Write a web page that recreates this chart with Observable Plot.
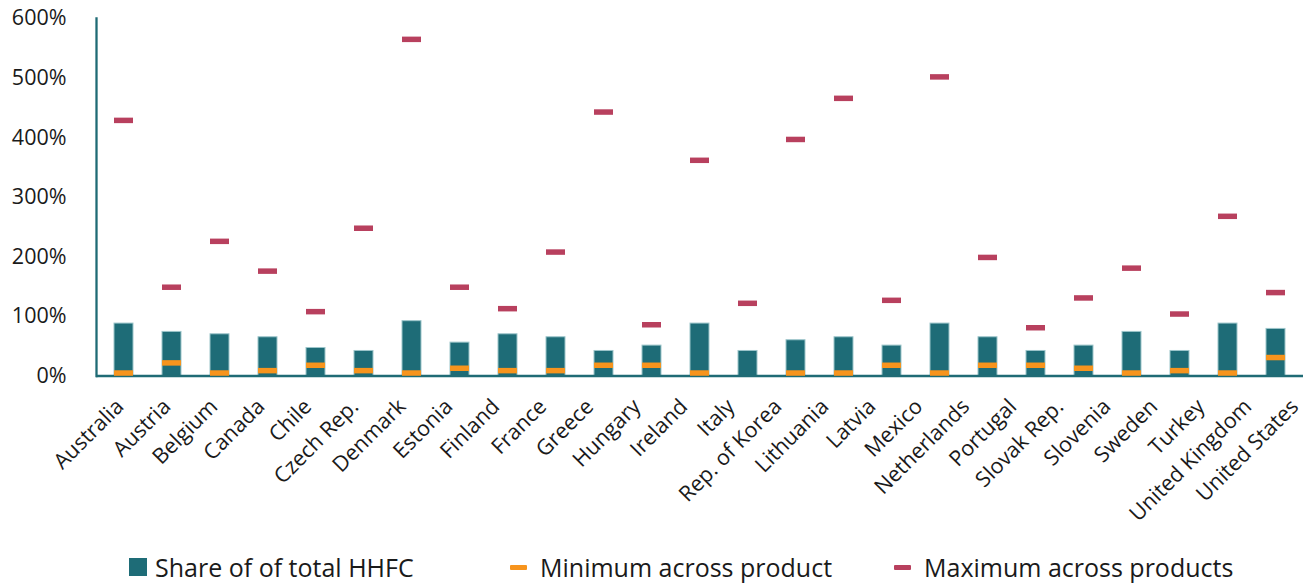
<!DOCTYPE html>
<html>
<head>
<meta charset="utf-8">
<script src="https://cdn.jsdelivr.net/npm/d3@7"></script>
<script src="https://cdn.jsdelivr.net/npm/@observablehq/plot@0.6"></script>
<style>
  html, body { margin: 0; padding: 0; background: #fff; }
  #chart { position: relative; width: 1306px; height: 584px; font-family: "Open Sans", Lato, sans-serif; color: #1a1a1a; }
  #chart svg { position: absolute; left: 0; top: 0; }
  .item { position: absolute; top: 553px; height: 28px; display: flex; align-items: center; font-size: 25px; white-space: nowrap; }
  .swatch { display: inline-block; }
</style>
</head>
<body>
<div id="chart"></div>
<script>
// Country labels along the category axis
const countries = [
  "Australia", "Austria", "Belgium", "Canada", "Chile", "Czech Rep.", "Denmark",
  "Estonia", "Finland", "France", "Greece", "Hungary", "Ireland", "Italy",
  "Rep. of Korea", "Lithuania", "Latvia", "Mexico", "Netherlands", "Portugal",
  "Slovak Rep.", "Slovenia", "Sweden", "Turkey", "United Kingdom", "United States"
];

// Series readings, in per cent (25 readings per series)
const shares = [88, 74, 70, 65, 47, 42, 92, 56, 70, 65, 42, 51, 88, 42, 60, 65, 51, 88, 65, 42, 51, 74, 42, 88, 79];
const minima = [5, 22, 5, 9, 18, 9, 5, 13, 9, 9, 18, 18, 5, null, 5, 5, 18, 5, 18, 18, 13, 5, 9, 5, 31];
const maxima = [429, 149, 226, 176, 108, 248, 565, 149, 113, 208, 443, 86, 362, 122, 397, 466, 127, 502, 199, 81, 131, 181, 104, 268, 140];

const yTicks = [0, 100, 200, 300, 400, 500, 600];
const seriesNames = ["Share of of total HHFC", "Minimum across product", "Maximum across products"];
const seriesColors = ["#1e6c77", "#f7941d", "#b8405e"];
const axisColor = "#1f6b75";
const fontFamily = "'Open Sans', Lato, sans-serif";

const W = 1306, H = 535, baseY = 375.5;

const readings = shares.map((share, i) => ({slot: i, share, min: minima[i], max: maxima[i]}));

const chart = Plot.plot({
  width: W,
  height: H,
  marginLeft: 96,
  marginRight: 3,
  marginTop: 18,
  marginBottom: H - baseY,
  style: {fontFamily, color: "#1a1a1a", background: "transparent", overflow: "visible"},
  x: {type: "band", domain: readings.map(d => d.slot), paddingInner: 0.61, paddingOuter: 0.305, axis: null},
  y: {domain: [0, 600]},
  marks: [
    Plot.axisY({ticks: yTicks, tickSize: 0, tickPadding: 30, tickFormat: d => d + "%", fontSize: 21.5}),
    Plot.barY(readings, {x: "slot", y: "share", fill: seriesColors[0], stroke: "#9cc5ca", strokeWidth: 1}),
    Plot.ruleY([0], {stroke: axisColor, strokeWidth: 2.6}),
    Plot.frame({anchor: "left", stroke: axisColor, strokeWidth: 2.3}),
    Plot.tickY(readings.filter(d => d.min != null), {x: "slot", y: "min", stroke: seriesColors[1], strokeWidth: 5.5}),
    Plot.tickY(readings, {x: "slot", y: "max", stroke: seriesColors[2], strokeWidth: 5.5})
  ]
});

// Category labels, rotated along the bottom
const step = 47.05, firstTick = 119;
const labelAxis = Plot.plot({
  width: W,
  height: H,
  marginLeft: 96,
  marginRight: 3,
  marginTop: 18,
  marginBottom: H - baseY,
  style: {fontFamily, color: "#1a1a1a", background: "transparent", overflow: "visible"},
  x: {type: "band", domain: countries, padding: 0, range: [firstTick - step / 2, firstTick - step / 2 + step * countries.length]},
  marks: [
    Plot.axisX({tickSize: 0, tickPadding: 27, tickRotate: -45, fontSize: 21.5})
  ]
});

const root = document.getElementById("chart");
root.appendChild(chart);
root.appendChild(labelAxis);

// Legend
const legendLefts = [129, 510, 894];
const swatches = [
  {w: 18, h: 18, gap: 8},
  {w: 17, h: 5, gap: 13},
  {w: 17, h: 5, gap: 13}
];
seriesNames.forEach((name, i) => {
  const item = document.createElement("div");
  item.className = "item";
  item.style.left = legendLefts[i] + "px";
  const sw = document.createElement("span");
  sw.className = "swatch";
  sw.style.width = swatches[i].w + "px";
  sw.style.height = swatches[i].h + "px";
  sw.style.background = seriesColors[i];
  sw.style.marginRight = swatches[i].gap + "px";
  if (i > 0) sw.style.borderRadius = "1px";
  const label = document.createElement("span");
  label.textContent = name;
  item.appendChild(sw);
  item.appendChild(label);
  root.appendChild(item);
});
</script>
</body>
</html>
